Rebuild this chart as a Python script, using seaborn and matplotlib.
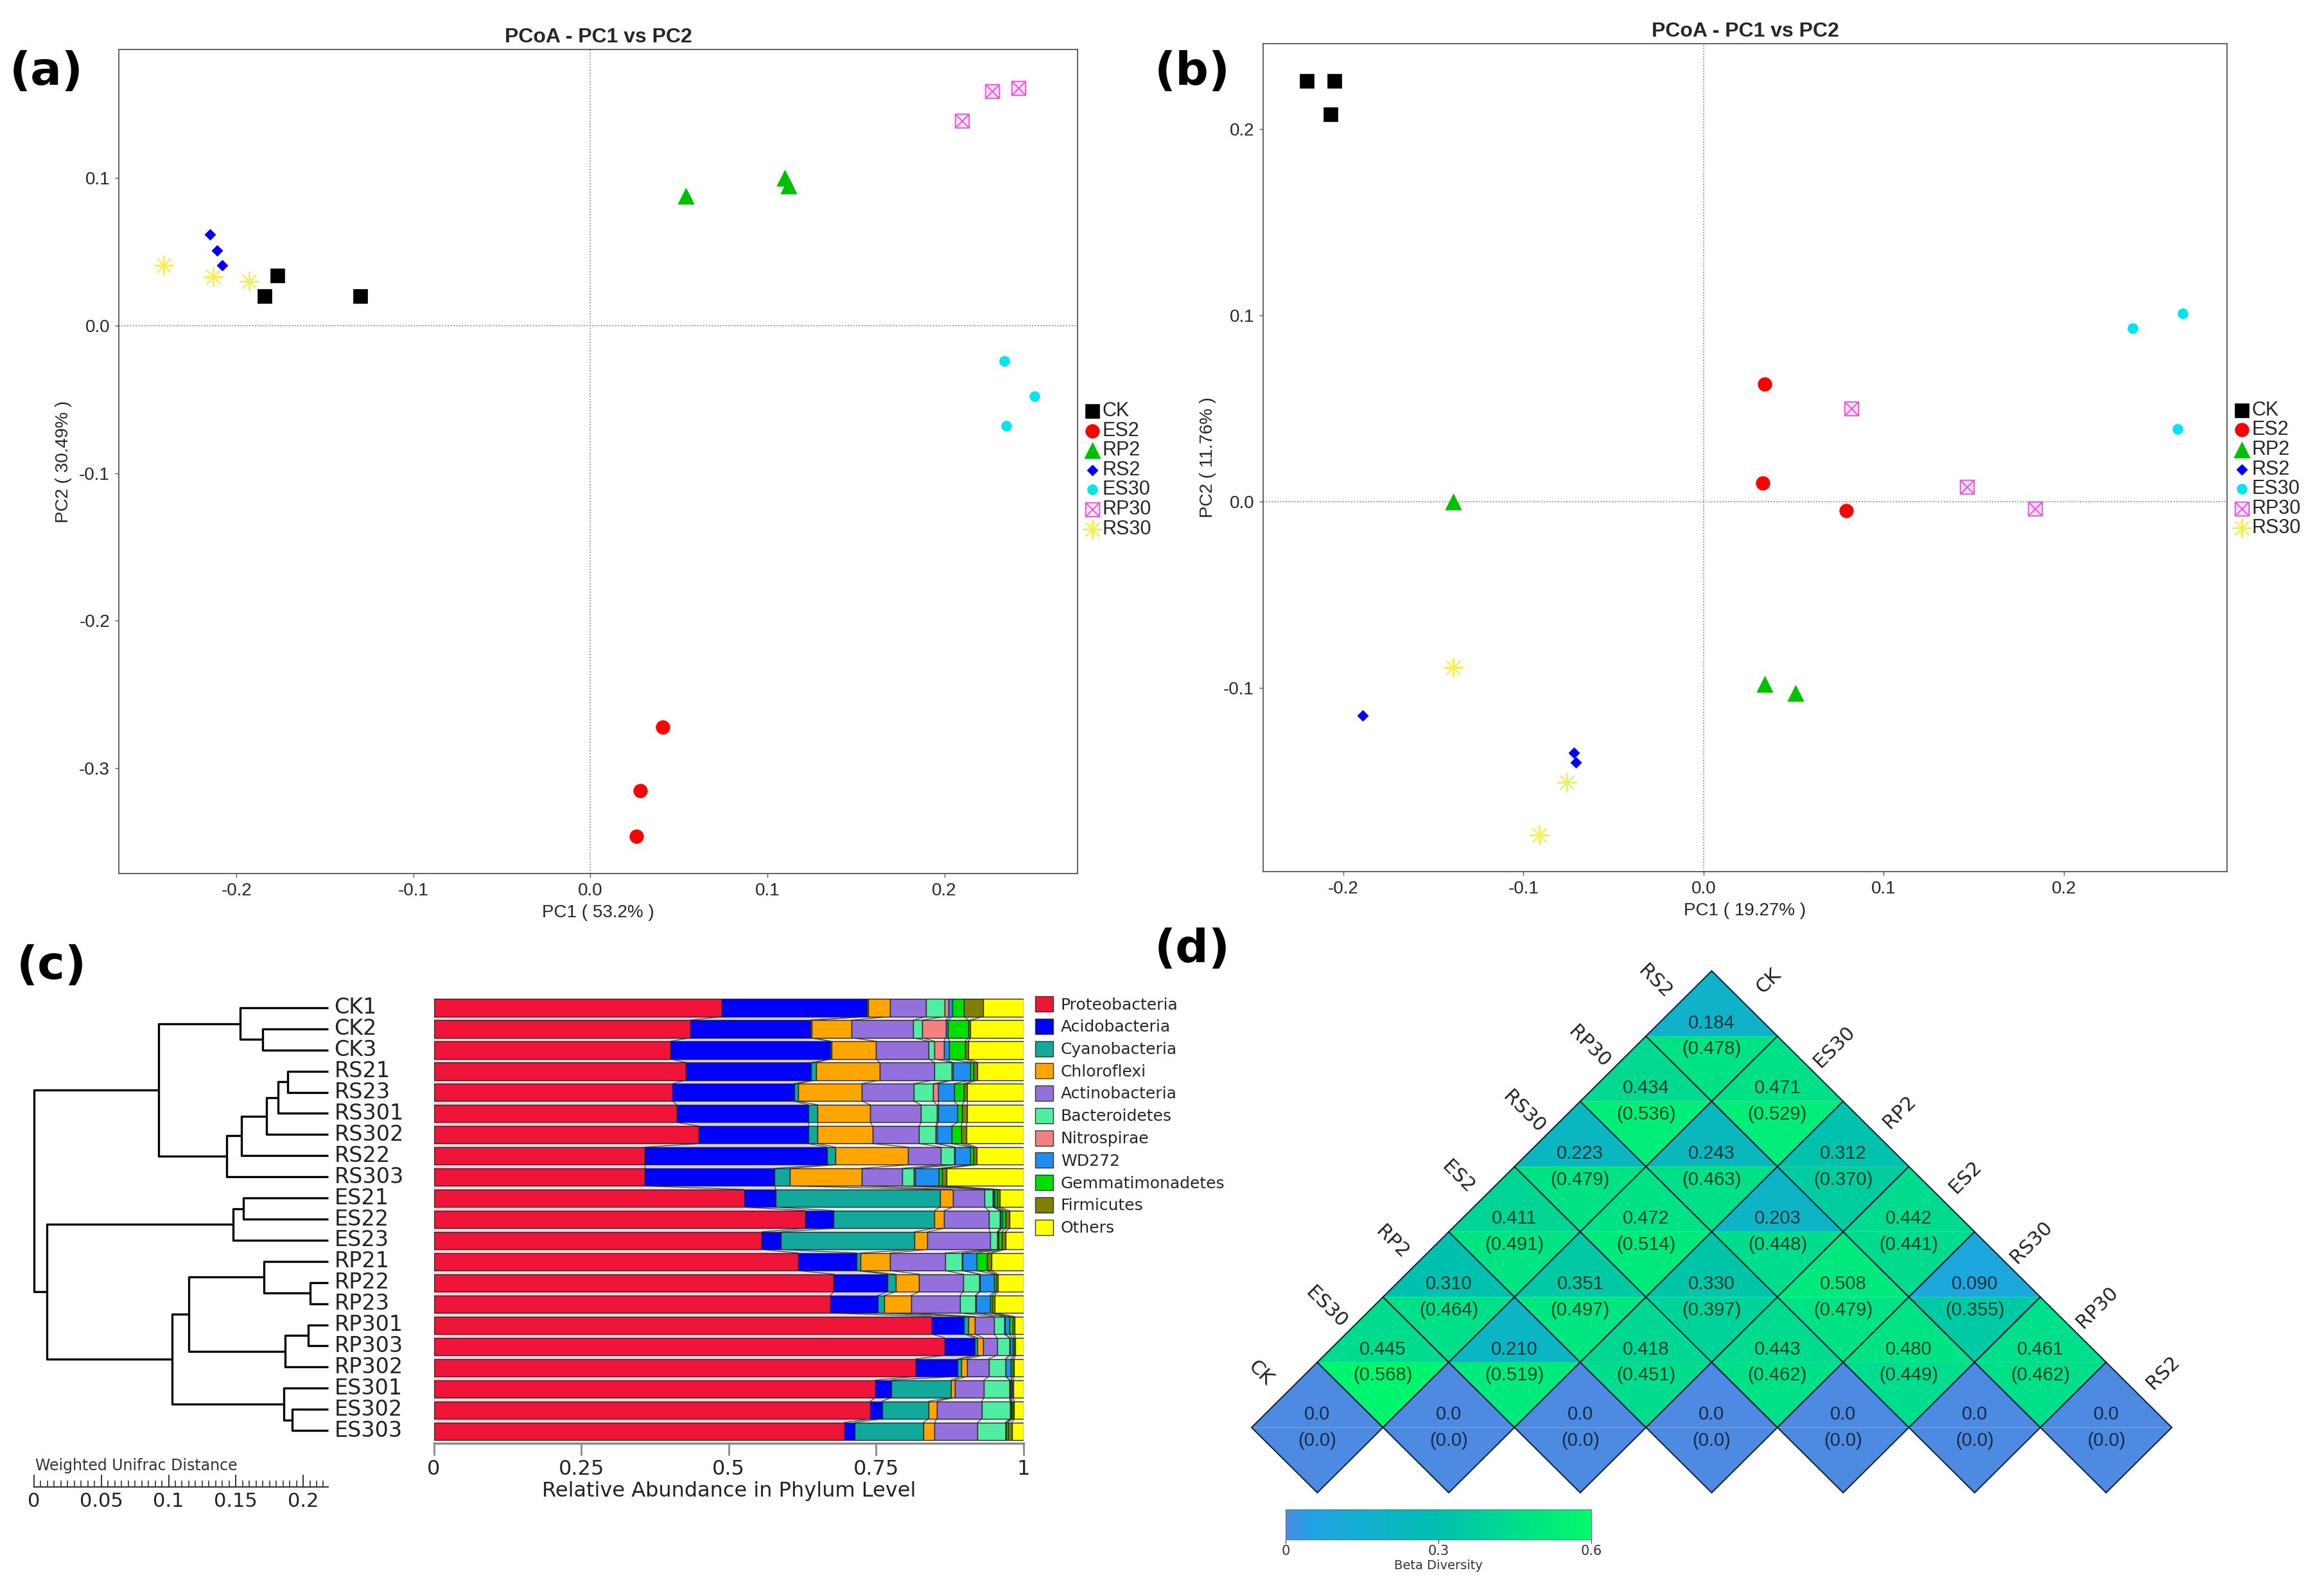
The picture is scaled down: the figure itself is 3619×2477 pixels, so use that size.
import warnings
import numpy as np
import pandas as pd
import matplotlib
matplotlib.use('Agg')
import matplotlib.pyplot as plt
from matplotlib.path import Path
from matplotlib.patches import Polygon, Patch
from matplotlib.colors import LinearSegmentedColormap, Normalize
from matplotlib.cm import ScalarMappable
from matplotlib.ticker import MultipleLocator
import seaborn as sns

warnings.filterwarnings('ignore')

# ---------------- data ----------------
groups = ['CK', 'ES2', 'RP2', 'RS2', 'ES30', 'RP30', 'RS30']
pcoa_group = ['CK'] * 3 + ['ES2'] * 3 + ['RP2'] * 3 + ['RS2'] * 3 + ['ES30'] * 3 + ['RP30'] * 3 + ['RS30'] * 3

# panel a (weighted)
a_pc1 = [-0.184, -0.177, -0.130, 0.041, 0.028, 0.026, 0.054, 0.110, 0.112,
         -0.215, -0.211, -0.208, 0.234, 0.251, 0.235, 0.210, 0.227, 0.242,
         -0.241, -0.213, -0.193]
a_pc2 = [0.020, 0.034, 0.020, -0.272, -0.315, -0.346, 0.088, 0.100, 0.095,
         0.062, 0.051, 0.041, -0.024, -0.048, -0.068, 0.139, 0.159, 0.161,
         0.041, 0.033, 0.030]

# panel b (unweighted)
b_pc1 = [-0.220, -0.205, -0.207, 0.034, 0.033, 0.079, -0.139, 0.034, 0.051,
         -0.189, -0.072, -0.071, 0.238, 0.266, 0.263, 0.082, 0.146, 0.184,
         -0.139, -0.076, -0.091]
b_pc2 = [0.226, 0.226, 0.208, 0.063, 0.010, -0.005, 0.000, -0.098, -0.103,
         -0.115, -0.135, -0.140, 0.093, 0.101, 0.039, 0.050, 0.008, -0.004,
         -0.089, -0.151, -0.179]

# panel c: phylum relative abundance
samples = ['CK1', 'CK2', 'CK3', 'RS21', 'RS23', 'RS301', 'RS302', 'RS22', 'RS303',
           'ES21', 'ES22', 'ES23', 'RP21', 'RP22', 'RP23', 'RP301', 'RP303', 'RP302',
           'ES301', 'ES302', 'ES303']
phyla = ['Proteobacteria', 'Acidobacteria', 'Cyanobacteria', 'Chloroflexi', 'Actinobacteria',
         'Bacteroidetes', 'Nitrospirae', 'WD272', 'Gemmatimonadetes', 'Firmicutes', 'Others']
proteobacteria = [.488, .435, .401, .427, .405, .412, .449, .358, .358, .526, .630, .556, .618, .678, .672, .844, .866, .817, .749, .740, .696]
acidobacteria = [.246, .204, .271, .213, .206, .223, .186, .309, .220, .054, .048, .033, .099, .091, .081, .055, .051, .071, .027, .020, .018]
cyanobacteria = [.002, .002, .002, .008, .007, .016, .016, .014, .026, .278, .171, .226, .007, .014, .011, .007, .005, .006, .101, .079, .116]
chloroflexi = [.038, .067, .076, .108, .108, .089, .093, .123, .122, .022, .016, .022, .050, .040, .045, .011, .009, .010, .006, .014, .019]
actinobacteria = [.061, .105, .089, .093, .088, .086, .079, .056, .068, .054, .076, .106, .093, .075, .083, .033, .024, .037, .050, .076, .073]
bacteroidetes = [.031, .015, .010, .029, .033, .027, .028, .022, .020, .014, .019, .012, .029, .027, .026, .017, .021, .028, .043, .048, .047]
nitrospirae = [.007, .040, .016, .002, .008, .002, .002, .002, .002, .001, .001, .001, .001, .001, .001, .001, .001, .001, .001, .001, .001]
wd272 = [.006, .004, .009, .030, .027, .033, .025, .026, .040, .002, .003, .002, .023, .024, .024, .008, .004, .008, .001, .001, .001]
gemmatimonadetes = [.020, .034, .027, .005, .017, .008, .016, .005, .006, .004, .005, .005, .018, .003, .004, .005, .003, .003, .002, .002, .003]
firmicutes = [.032, .004, .005, .007, .005, .008, .009, .005, .007, .005, .007, .006, .008, .003, .004, .004, .002, .003, .003, .003, .006]
others = [.069, .090, .094, .078, .096, .096, .097, .080, .131, .040, .024, .031, .054, .044, .049, .015, .014, .016, .017, .016, .020]
phylum_colors = ['#f01438', '#0000ff', '#12a89c', '#ffa500', '#9370db', '#50eea0',
                 '#f48080', '#1e8ff0', '#00dd00', '#7f7f00', '#ffff00']

# dendrogram (weighted unifrac), node ids 21.. ; x = distance from root
merge_left = [1, 0, 3, 23, 24, 25, 26, 22, 9, 29, 13, 12, 15, 33, 32, 19, 18, 35, 30, 28]
merge_right = [2, 21, 4, 5, 6, 7, 8, 27, 10, 11, 14, 31, 16, 17, 34, 20, 36, 37, 38, 39]
merge_x = [0.170, 0.153, 0.1885, 0.1816, 0.1726, 0.154, 0.143, 0.0926, 0.1556, 0.148,
           0.205, 0.171, 0.2036, 0.1866, 0.115, 0.192, 0.1858, 0.1027, 0.0096, 0.0]
leaf_x = 0.2186

# panel d: beta diversity, weighted (unweighted), upper triangle rows
beta_groups = ['CK', 'ES30', 'RP2', 'ES2', 'RS30', 'RP30', 'RS2']
weighted_rows = [[.445, .310, .411, .223, .434, .184],
                 [.210, .351, .472, .243, .471],
                 [.418, .330, .203, .312],
                 [.443, .508, .442],
                 [.480, .090],
                 [.461]]
unweighted_rows = [[.568, .464, .491, .479, .536, .478],
                   [.519, .497, .514, .463, .529],
                   [.451, .397, .448, .370],
                   [.462, .479, .441],
                   [.449, .355],
                   [.462]]

# ---------------- style ----------------
sns.set_style('white')
plt.rcParams['font.family'] = ['DejaVu Sans']
W, H = 3619, 2477
fig = plt.figure(figsize=(W / 100, H / 100), dpi=100)


def rect(x0, y0, x1, y1):
    return [x0 / W, 1 - y1 / H, (x1 - x0) / W, (y1 - y0) / H]


boxx = Path([(-1, -1), (1, -1), (1, 1), (-1, 1), (-1, -1), (-1, -1), (1, 1), (-1, 1), (1, -1)],
            [Path.MOVETO, Path.LINETO, Path.LINETO, Path.LINETO, Path.CLOSEPOLY,
             Path.MOVETO, Path.LINETO, Path.MOVETO, Path.LINETO])
# marker, size, face, edge, lw
mstyle = {
    'CK': ('s', 230, 'black', 'black', 0.5),
    'ES2': ('o', 240, '#ff0000', '#ff0000', 0.5),
    'RP2': ('^', 330, '#00c000', '#00c000', 0.5),
    'RS2': ('D', 75, '#0000ee', '#0000ee', 0.5),
    'ES30': ('o', 130, '#00e5ee', '#00e5ee', 0.5),
    'RP30': (boxx, 240, '#fde4fa', '#f050e0', 1.4),
    'RS30': ((8, 2, 0), 420, '#f6ee55', None, 1.6),
}


def draw_pcoa(ax, pc1, pc2, xlim, ylim, xt, yt, xlab, ylab, leg_y):
    df = pd.DataFrame({'group': pcoa_group, 'PC1': pc1, 'PC2': pc2})
    ax.axhline(0, color='#777777', ls=':', lw=1.2, zorder=0)
    ax.axvline(0, color='#777777', ls=':', lw=1.2, zorder=0)
    for g in groups:
        sub = df[df.group == g]
        m, s, fc, ec, lw = mstyle[g]
        kw = dict(marker=m, s=s, color=fc, linewidth=lw, label=g, legend=False, ax=ax, zorder=3)
        if ec is not None:
            kw['edgecolor'] = ec
        sns.scatterplot(data=sub, x='PC1', y='PC2', **kw)
    ax.set_xlim(*xlim)
    ax.set_ylim(*ylim)
    ax.set_xticks(xt)
    ax.set_yticks(yt)
    ax.set_xticklabels([f'{v:.1f}' for v in xt], fontsize=20, family='Liberation Sans')
    ax.set_yticklabels([f'{v:.1f}' for v in yt], fontsize=20, family='Liberation Sans')
    ax.tick_params(length=4, width=1, color='#555555', pad=6, direction='out', bottom=True, left=True)
    ax.set_xlabel(xlab, fontsize=20, family='Liberation Sans', labelpad=6)
    ax.set_ylabel(ylab, fontsize=20, family='Liberation Sans', labelpad=8)
    ax.set_title('PCoA - PC1 vs PC2', fontsize=23, fontweight='bold', family='Liberation Sans', pad=8)
    for sp in ax.spines.values():
        sp.set_color('#555555')
        sp.set_linewidth(1.3)
    ax.legend(loc='upper left', bbox_to_anchor=(1.0, leg_y), frameon=False,
              handletextpad=0.05, labelspacing=0.02, borderaxespad=0.3, borderpad=0,
              handlelength=0.9, markerscale=1.0, prop={'family': 'Liberation Sans', 'size': 22})


ax_a = fig.add_axes(rect(185, 77, 1678, 1360))
draw_pcoa(ax_a, a_pc1, a_pc2, (-0.2665, 0.2753), (-0.3713, 0.1872),
          [-0.2, -0.1, 0.0, 0.1, 0.2], [-0.3, -0.2, -0.1, 0.0, 0.1],
          'PC1 ( 53.2% )', 'PC2 ( 30.49% )', 0.58)

ax_b = fig.add_axes(rect(1967, 68, 3468, 1357))
draw_pcoa(ax_b, b_pc1, b_pc2, (-0.2444, 0.2905), (-0.1988, 0.2459),
          [-0.2, -0.1, 0.0, 0.1, 0.2], [-0.1, 0.0, 0.1, 0.2],
          'PC1 ( 19.27% )', 'PC2 ( 11.76% )', 0.576)

# ---------------- panel c: dendrogram ----------------
ax_t = fig.add_axes(rect(53, 1552.5, 511, 2243.5))
node_x = {i: leaf_x for i in range(len(samples))}
node_y = {i: float(i) for i in range(len(samples))}
for k, (l, r, h) in enumerate(zip(merge_left, merge_right, merge_x)):
    nid = len(samples) + k
    ax_t.plot([node_x[l], h, h, node_x[r]], [node_y[l], node_y[l], node_y[r], node_y[r]],
              color='black', lw=2.4, solid_joinstyle='round', solid_capstyle='butt', clip_on=False)
    node_x[nid] = h
    node_y[nid] = (node_y[l] + node_y[r]) / 2
ax_t.set_xlim(0, leaf_x)
ax_t.set_ylim(len(samples) - 0.5, -0.5)
ax_t.axis('off')
for i, s in enumerate(samples):
    ax_t.text(leaf_x + 0.0045, i, s, fontsize=24, va='center', ha='left', color='#222222')

ax_s = fig.add_axes(rect(53, 2290, 511, 2315))
ax_s.set_xlim(0, leaf_x)
ax_s.set_yticks([])
for side in ['top', 'left', 'right']:
    ax_s.spines[side].set_visible(False)
ax_s.spines['bottom'].set_color('#333333')
ax_s.spines['bottom'].set_linewidth(1.5)
ax_s.set_facecolor('none')
ax_s.set_xticks([0, 0.05, 0.1, 0.15, 0.2])
ax_s.set_xticklabels(['0', '0.05', '0.1', '0.15', '0.2'], fontsize=22, color='#222222')
ax_s.xaxis.set_minor_locator(MultipleLocator(0.005))
ax_s.tick_params(axis='x', which='major', direction='in', bottom=True, length=14, width=1.4,
                 color='#333333', pad=6)
ax_s.tick_params(axis='x', which='minor', direction='in', bottom=True, length=7, width=1.2, color='#333333')
fig.text(55 / W, 1 - 2282 / H, 'Weighted Unifrac Distance', fontsize=17, va='center', ha='left', color='#333333')

# ---------------- panel c: stacked bars ----------------
ax_c = fig.add_axes(rect(675.5, 1552.5, 1594, 2247.3))
abund = pd.DataFrame({'Proteobacteria': proteobacteria, 'Acidobacteria': acidobacteria,
                      'Cyanobacteria': cyanobacteria, 'Chloroflexi': chloroflexi,
                      'Actinobacteria': actinobacteria, 'Bacteroidetes': bacteroidetes,
                      'Nitrospirae': nitrospirae, 'WD272': wd272,
                      'Gemmatimonadetes': gemmatimonadetes, 'Firmicutes': firmicutes,
                      'Others': others}, index=samples)
ypos = np.arange(len(samples))
bh = 0.83
left = np.zeros(len(samples))
for p, col in zip(phyla, phylum_colors):
    vals = abund[p].values
    ax_c.barh(ypos, vals, left=left, height=bh, color=col, edgecolor='#262626', linewidth=1.0, zorder=3)
    # ribbons linking neighbouring bars
    for i in range(len(samples) - 1):
        yb, yt = i + bh / 2, i + 1 - bh / 2
        ax_c.add_patch(Polygon([(left[i], yb), (left[i] + vals[i], yb),
                                (left[i + 1] + vals[i + 1], yt), (left[i + 1], yt)],
                               closed=True, facecolor=col, alpha=0.18, edgecolor='none', zorder=1))
        ax_c.plot([left[i] + vals[i], left[i + 1] + vals[i + 1]], [yb, yt], color='#444444', lw=0.9, zorder=2)
    left = left + vals
ax_c.set_xlim(0, 1)
ax_c.set_ylim(len(samples) - 0.42, -0.5)
ax_c.set_yticks([])
for side in ['top', 'left', 'right']:
    ax_c.spines[side].set_visible(False)
ax_c.spines['bottom'].set_color('#888888')
ax_c.spines['bottom'].set_linewidth(2.5)
ax_c.set_xticks([0, 0.25, 0.5, 0.75, 1])
ax_c.set_xticklabels(['0', '0.25', '0.5', '0.75', '1'], fontsize=23, color='#222222')
ax_c.tick_params(axis='x', direction='out', bottom=True, length=14, width=2, color='#888888', pad=4)
ax_c.set_xlabel('Relative Abundance in Phylum Level', fontsize=23, color='#222222', labelpad=2)

handles = [Patch(facecolor=c, edgecolor='#333333', label=p) for p, c in zip(phyla, phylum_colors)]
fig.legend(handles=handles, loc='upper left', bbox_to_anchor=(1612 / W, 1 - 1551 / H), frameon=False,
           fontsize=18, handlelength=1.1, handleheight=1.1, labelspacing=0.37, handletextpad=0.5,
           borderpad=0, borderaxespad=0)

# ---------------- panel d: triangular beta diversity map ----------------
cmap = LinearSegmentedColormap.from_list('beta', [(0.0, '#4d8be2'), (0.08, '#22a2e6'),
                                                  (0.5, '#00bfb0'), (1.0, '#00fb68')])
norm = Normalize(0, 0.6)
n = len(beta_groups)
wmat = np.zeros((n, n))
umat = np.zeros((n, n))
for a in range(n):
    for j, b in enumerate(range(a + 1, n)):
        wmat[a, b] = weighted_rows[a][j]
        umat[a, b] = unweighted_rows[a][j]

ax_d = fig.add_axes(rect(1846.6, 1410, 3484.4, 2344.3))
for a in range(n):
    for b in range(a, n):
        cx, cy = (a + b) / 2, (b - a) / 2
        ax_d.add_patch(Polygon([(cx - .5, cy), (cx, cy + .5), (cx + .5, cy)], closed=True,
                               facecolor=cmap(norm(wmat[a, b])), edgecolor='none'))
        ax_d.add_patch(Polygon([(cx - .5, cy), (cx, cy - .5), (cx + .5, cy)], closed=True,
                               facecolor=cmap(norm(umat[a, b])), edgecolor='none'))
        ax_d.add_patch(Polygon([(cx - .5, cy), (cx, cy + .5), (cx + .5, cy), (cx, cy - .5)], closed=True,
                               facecolor='none', edgecolor='#12243e', lw=1.5))
        if a == b:
            t1, t2 = '0.0', '(0.0)'
        else:
            t1, t2 = f'{wmat[a, b]:.3f}', f'({umat[a, b]:.3f})'
        ax_d.text(cx, cy + 0.1, t1, ha='center', va='center', fontsize=21, color='black', alpha=0.7,
                  family='Liberation Sans')
        ax_d.text(cx, cy - 0.1, t2, ha='center', va='center', fontsize=21, color='black', alpha=0.7,
                  family='Liberation Sans')
for k, g in enumerate(beta_groups):
    ax_d.text(k / 2 - 0.25 - 0.18, k / 2 + 0.25 + 0.17, g, rotation=-45, ha='center', va='center',
              fontsize=22, color='#222222')
    cx, cy = (k + n - 1) / 2, (n - 1 - k) / 2
    ax_d.text(cx + 0.25 + 0.18, cy + 0.25 + 0.17, g, rotation=45, ha='center', va='center',
              fontsize=22, color='#222222')
ax_d.set_xlim(-1.0, 7.0)
ax_d.set_ylim(-0.6, 4.0)
ax_d.axis('off')

cax = fig.add_axes(rect(2002, 2350, 2478, 2397))
cb = fig.colorbar(ScalarMappable(norm=norm, cmap=cmap), cax=cax, orientation='horizontal')
cb.set_ticks([0, 0.3, 0.6])
cb.set_ticklabels(['0', '0.3', '0.6'])
cb.ax.tick_params(labelsize=15, bottom=True, length=4, width=0.8, pad=2, colors='#333333')
cb.outline.set_linewidth(0.6)
cb.outline.set_edgecolor('#3a6a70')
cb.set_label('Beta Diversity', fontsize=14, labelpad=2, color='#333333')

# ---------------- panel letters ----------------
for txt, x, y in [('(a)', 72, 112), ('(b)', 1857, 112), ('(c)', 80, 1505), ('(d)', 1857, 1478)]:
    fig.text(x / W, 1 - y / H, txt, fontsize=52, fontweight='bold', ha='center', va='center', color='black')

fig.savefig('out.png', dpi=100)
